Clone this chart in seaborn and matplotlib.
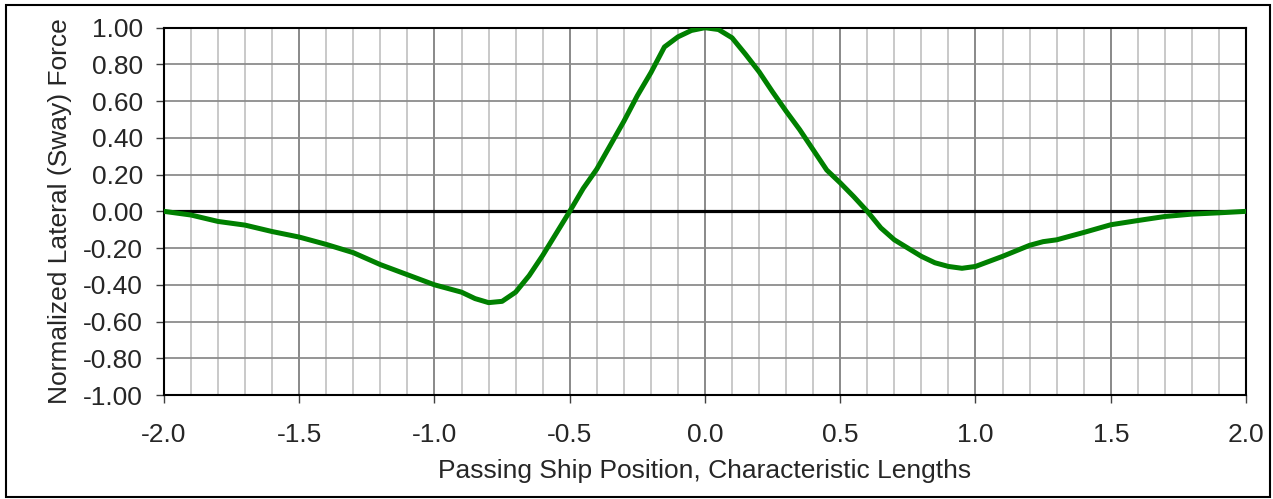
import matplotlib
matplotlib.use("Agg")
import matplotlib.pyplot as plt
import seaborn as sns
import pandas as pd
from matplotlib.ticker import MultipleLocator, FormatStrFormatter
from matplotlib.patches import Rectangle

# Passing ship position (characteristic lengths) vs normalized sway force
position = [-2.0, -1.9, -1.8, -1.7, -1.6, -1.5, -1.4, -1.3, -1.2, -1.1,
            -1.0, -0.9, -0.85, -0.8, -0.75, -0.7, -0.65, -0.6, -0.55, -0.5,
            -0.45, -0.4, -0.35, -0.3, -0.25, -0.2, -0.15, -0.1, -0.05, 0.0,
            0.05, 0.1, 0.15, 0.2, 0.25, 0.3, 0.35, 0.4, 0.45, 0.5,
            0.55, 0.6, 0.65, 0.7, 0.8, 0.85, 0.9, 0.95, 1.0, 1.1,
            1.2, 1.25, 1.3, 1.4, 1.5, 1.6, 1.7, 1.8, 1.9, 2.0]
sway_force = [0.0, -0.02, -0.055, -0.075, -0.11, -0.14, -0.18, -0.225, -0.29, -0.345,
              -0.40, -0.44, -0.475, -0.497, -0.49, -0.44, -0.35, -0.24, -0.12, 0.0,
              0.125, 0.23, 0.36, 0.49, 0.63, 0.755, 0.895, 0.95, 0.985, 1.0,
              0.99, 0.945, 0.855, 0.76, 0.65, 0.545, 0.445, 0.335, 0.225, 0.155,
              0.08, 0.0, -0.09, -0.155, -0.245, -0.28, -0.30, -0.31, -0.30, -0.245,
              -0.185, -0.165, -0.155, -0.115, -0.073, -0.05, -0.028, -0.015, -0.008, 0.0]

df = pd.DataFrame({"position": position, "force": sway_force})

sns.set_style("white")
plt.rcParams["font.family"] = ["Liberation Sans", "DejaVu Sans"]

fig = plt.figure(figsize=(12.73, 4.99), dpi=100)
ax = fig.add_axes([0.1288, 0.2084, 0.8500, 0.7361])

# grid
ax.xaxis.set_major_locator(MultipleLocator(0.5))
ax.xaxis.set_minor_locator(MultipleLocator(0.1))
ax.yaxis.set_major_locator(MultipleLocator(0.2))
ax.grid(which="minor", axis="x", color="#c0c0c0", lw=1.2)
ax.grid(which="major", axis="x", color="#808080", lw=1.3)
ax.grid(which="major", axis="y", color="#8c8c8c", lw=1.3)
ax.set_axisbelow(True)

ax.axhline(0, color="black", lw=2.3, zorder=2)
sns.lineplot(data=df, x="position", y="force", color="#008000", lw=3.6, ax=ax, zorder=3)

ax.set_xlim(-2.0, 2.0)
ax.set_ylim(-1.0, 1.0)
ax.xaxis.set_major_formatter(FormatStrFormatter("%.1f"))
ax.yaxis.set_major_formatter(FormatStrFormatter("%.2f"))
ax.tick_params(which="major", direction="out", length=6, width=1, color="#404040",
               labelsize=19, bottom=True, left=True)
ax.tick_params(axis="x", which="major", pad=14)
ax.tick_params(axis="y", which="major", pad=9)
ax.tick_params(which="minor", length=0)

for s in ax.spines.values():
    s.set_color("black")
    s.set_linewidth(1.5)

ax.set_xlabel("Passing Ship Position, Characteristic Lengths", fontsize=19, labelpad=9)
ax.set_ylabel("Normalized Lateral (Sway) Force", fontsize=19, labelpad=8)

fig.patches.append(Rectangle((6 / 1273, 2 / 499), 1264 / 1273, 492 / 499,
                             transform=fig.transFigure, fill=False,
                             edgecolor="black", lw=1.5))

fig.savefig("out.png", dpi=100)
